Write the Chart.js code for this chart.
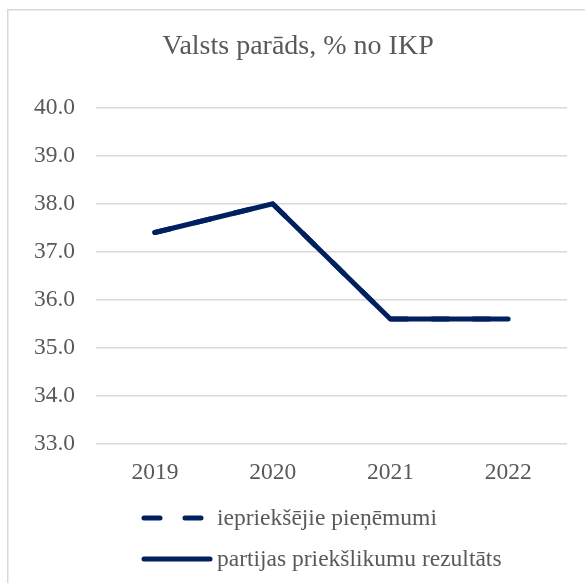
<!DOCTYPE html>
<html>
<head>
<meta charset="utf-8">
<script src="https://cdn.jsdelivr.net/npm/chart.js@4.4.1/dist/chart.umd.min.js"></script>
<style>
    body { margin: 0; background: #fff; }
</style>
</head>
<body>
<canvas id="doThiNo" width="585" height="583"></canvas>
<script>
var _labels = ['2019', '2020', '2021', '2022'];
var _valuesIeprieksejie = [37.4, 38.0, 35.6, 35.6];
var _valuesPartijas = [37.4, 38.0, 35.6, 35.6];
var _nameIeprieksejie = 'iepriekšējie pieņēmumi';
var _namePartijas = 'partijas priekšlikumu rezultāts';
var _title = 'Valsts parāds, % no IKP';
var _yMin = 33;
var _yMax = 40;

var _font = "'Liberation Serif', 'Times New Roman', serif";
var _textColor = '#595959';
var _lineColor = '#002060';

// khung viền xám quanh biểu đồ
var framePlugin = {
    id: 'framePlugin',
    beforeDraw: function (chart) {
        var ctx = chart.ctx;
        ctx.save();
        ctx.fillStyle = '#fff';
        ctx.fillRect(0, 0, chart.width, chart.height);
        ctx.strokeStyle = '#d9d9d9';
        ctx.lineWidth = 1.5;
        ctx.strokeRect(7.75, 9.75, 700, 700);
        ctx.restore();
    }
};

// chú thích xếp dọc bên dưới trục x
var legendPlugin = {
    id: 'legendDoc',
    afterDraw: function (chart) {
        var ctx = chart.ctx;
        var area = chart.chartArea;
        var items = [
            { ds: chart.data.datasets[0], y: area.bottom + 74, x2: 207 },
            { ds: chart.data.datasets[1], y: area.bottom + 115, x2: 212 }
        ];
        ctx.save();
        items.forEach(function (item) {
            ctx.beginPath();
            ctx.strokeStyle = item.ds.borderColor;
            ctx.lineWidth = item.ds.borderWidth;
            ctx.lineCap = 'round';
            ctx.setLineDash(item.ds.borderDash || []);
            ctx.moveTo(144, item.y);
            ctx.lineTo(item.x2 - 2, item.y);
            ctx.stroke();
            ctx.setLineDash([]);
            ctx.fillStyle = _textColor;
            ctx.font = '23.5px ' + _font;
            ctx.textBaseline = 'middle';
            ctx.textAlign = 'left';
            ctx.fillText(item.ds.label, 217, item.y + 1);
        });
        ctx.restore();
    }
};

var ctx = document.getElementById('doThiNo').getContext('2d');
var _myChart = new Chart(ctx, {
    type: 'line',
    data: {
        labels: _labels,
        datasets: [{
            label: _nameIeprieksejie,
            data: _valuesIeprieksejie,
            borderColor: _lineColor,
            backgroundColor: _lineColor,
            borderWidth: 5,
            borderDash: [16, 25],
            borderCapStyle: 'round',
            borderJoinStyle: 'miter',
            pointRadius: 0,
            tension: 0,
            order: 1
        }, {
            label: _namePartijas,
            data: _valuesPartijas,
            borderColor: _lineColor,
            backgroundColor: _lineColor,
            borderWidth: 5,
            borderCapStyle: 'round',
            borderJoinStyle: 'miter',
            pointRadius: 0,
            tension: 0,
            order: 0
        }]
    },
    options: {
        responsive: false,
        animation: false,
        layout: {
            padding: { left: 29, right: 18, top: 0, bottom: 96 }
        },
        plugins: {
            legend: { display: false },
            tooltip: { enabled: false },
            title: {
                display: true,
                text: _title,
                color: _textColor,
                font: { family: _font, size: 28, weight: 'normal' },
                padding: { top: 30, bottom: 44 }
            }
        },
        scales: {
            x: {
                offset: true,
                grid: { display: false, drawTicks: false },
                border: { display: false },
                ticks: {
                    color: _textColor,
                    font: { family: _font, size: 23.5 },
                    padding: 15
                },
                afterFit: function (scale) { scale.height = 43; }
            },
            y: {
                min: _yMin,
                max: _yMax,
                grid: { color: '#d9d9d9', lineWidth: 1.5, drawTicks: false },
                border: { display: false },
                ticks: {
                    stepSize: 1,
                    color: _textColor,
                    font: { family: _font, size: 23.5 },
                    padding: 21,
                    callback: function (value) {
                        return value.toFixed(1);
                    }
                },
                afterFit: function (scale) { scale.width = 67; }
            }
        }
    },
    plugins: [framePlugin, legendPlugin]
});
</script>
</body>
</html>
